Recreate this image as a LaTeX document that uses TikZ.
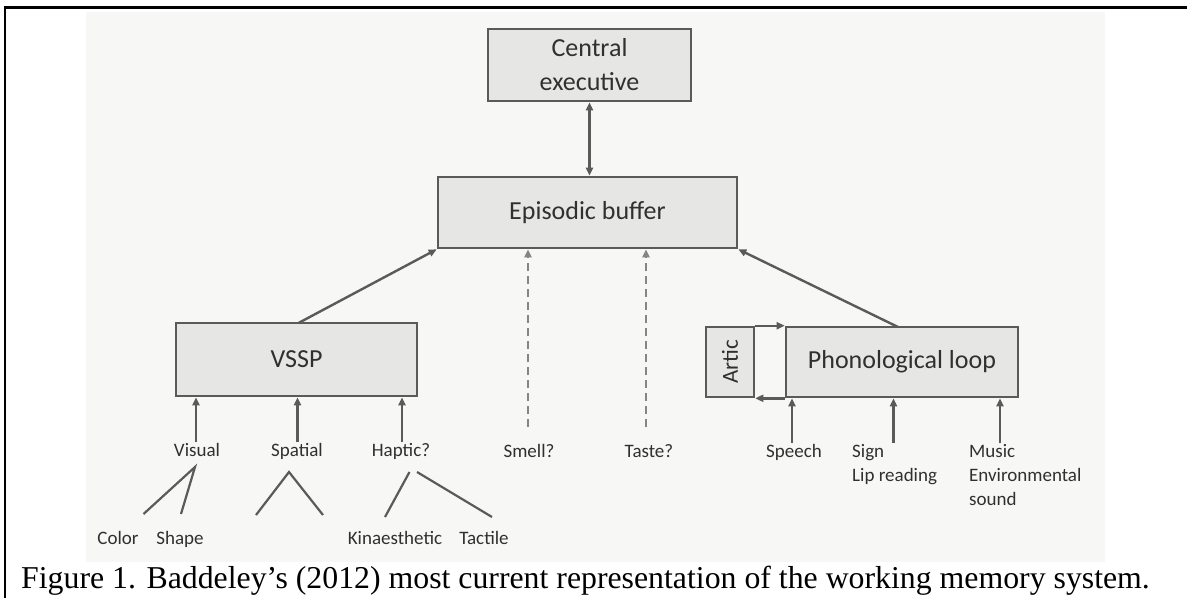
\documentclass[tikz,border=0pt]{standalone}
\usepackage{fontspec}
\setmainfont{Liberation Serif}
\newfontfamily\diag{Carlito}
\usetikzlibrary{arrows.meta}
\definecolor{edge}{HTML}{5A5A5A}
\definecolor{boxfill}{HTML}{E6E6E4}
\definecolor{scan}{HTML}{F7F8F5}
\definecolor{ink}{HTML}{303030}
\definecolor{dashc}{HTML}{858585}
\begin{document}
\begin{tikzpicture}[x=1pt,y=-1pt,
 box/.style={draw=edge, line width=2.6pt, fill=boxfill, inner sep=0pt, text=ink, font=\diag\fontsize{26}{34}\selectfont},
 lbl/.style={inner sep=0pt, text=ink, font=\diag\fontsize{19}{23}\selectfont},
 tip/.style={-{Triangle[length=8pt,width=7pt]}},
 arr/.style={draw=edge, line width=2.4pt, tip},
 dasharr/.style={draw=dashc, line width=2.2pt, dash pattern=on 8pt off 5pt, tip},
 tree/.style={draw=edge, line width=2.2pt}]
\useasboundingbox (0,0) rectangle (1187,598);
\fill[white] (0,0) rectangle (1187,598);
\fill[scan] (86,12) rectangle (1105,562);
\draw[line width=2.6pt] (5,598) -- (5,7.5) -- (1187,7.5);

% boxes
\node[box, minimum width=203pt, minimum height=72pt, align=center] (ce) at (589.5,65) {Central\\executive};
\node[box, minimum width=299pt, minimum height=71pt] (eb) at (587.5,212.5) {Episodic buffer};
\node[box, minimum width=241pt, minimum height=73pt] (vssp) at (296.5,359.5) {VSSP};
\node[box, minimum width=48pt, minimum height=70pt, font=\diag\fontsize{23}{27}\selectfont] (artic) at (730,362) {\rotatebox{90}{Artic}};
\node[box, minimum width=232pt, minimum height=70pt] (pl) at (902,362) {Phonological loop};

% labels
\node[lbl, anchor=base] (visual) at (197,456) {Visual};
\node[lbl, anchor=base] (spatial) at (297,456) {Spatial};
\node[lbl, anchor=base] (haptic) at (401,456) {Haptic?};
\node[lbl, anchor=base] (smell) at (529,457) {Smell?};
\node[lbl, anchor=base] (taste) at (649,457) {Taste?};
\node[lbl, anchor=base] (speech) at (794,457) {Speech};
\node[lbl, anchor=base west] (sign) at (852,457) {Sign};
\node[lbl, anchor=base west] (lip) at (852,481) {Lip reading};
\node[lbl, anchor=base west] (music) at (969,457) {Music};
\node[lbl, anchor=base west] (env) at (969,481) {Environmental};
\node[lbl, anchor=base west] (sound) at (969,505) {sound};
\node[lbl, anchor=base] (color) at (118,544) {Color};
\node[lbl, anchor=base] (shape) at (180,544) {Shape};
\node[lbl, anchor=base] (kin) at (395,544) {Kinaesthetic};
\node[lbl, anchor=base] (tactile) at (484,544) {Tactile};

% caption
\node[anchor=base west, inner sep=0pt, font=\fontsize{31.8}{36}\selectfont] (cap) at (21,588) {Figure 1. Baddeley’s (2012) most current representation of the working memory system.};

% coordinates
\coordinate (aVis) at (196,442);
\coordinate (aSpa) at (297.5,442);
\coordinate (aHap) at (402,442);
\coordinate (aSme) at (528,427);
\coordinate (aTas) at (646,427);
\coordinate (aSpe) at (792,443);
\coordinate (aSig) at (893.5,443);
\coordinate (aMus) at (1000,443);
\coordinate (vssptop) at (298.5,323);
\coordinate (pltop) at (898,327);
\coordinate (tV) at (195,467);
\coordinate (tVa) at (143.5,514);
\coordinate (tVb) at (181,514);
\coordinate (tS) at (289,472);
\coordinate (tSa) at (256,515);
\coordinate (tSb) at (323,515);
\coordinate (tHa) at (409.5,472);
\coordinate (tHaa) at (385,517);
\coordinate (tHb) at (417,472);
\coordinate (tHbb) at (492,517);

% connectors
\draw[arr, {Triangle[length=8pt,width=7pt]}-{Triangle[length=8pt,width=7pt]}] (ce.south) -- (ce.south |- eb.north);
\draw[arr] (vssptop) -- (eb.south west);
\draw[arr] (pltop) -- (eb.south east);
\draw[dasharr] (aSme) -- (aSme |- eb.south);
\draw[dasharr] (aTas) -- (aTas |- eb.south);
\draw[arr] (aVis) -- (aVis |- vssp.south);
\draw[arr] (aSpa) -- (aSpa |- vssp.south);
\draw[arr] (aHap) -- (aHap |- vssp.south);
\draw[arr] (aSpe) -- (aSpe |- pl.south);
\draw[arr] (aSig) -- (aSig |- pl.south);
\draw[arr] (aMus) -- (aMus |- pl.south);
\draw[arr] (artic.north east) -- (pl.north west);
\draw[arr] (pl.south west) -- (artic.south east);
\draw[tree] (tVa) -- (tV) -- (tVb);
\draw[tree] (tSa) -- (tS) -- (tSb);
\draw[tree] (tHa) -- (tHaa);
\draw[tree] (tHb) -- (tHbb);
\end{tikzpicture}
\end{document}
